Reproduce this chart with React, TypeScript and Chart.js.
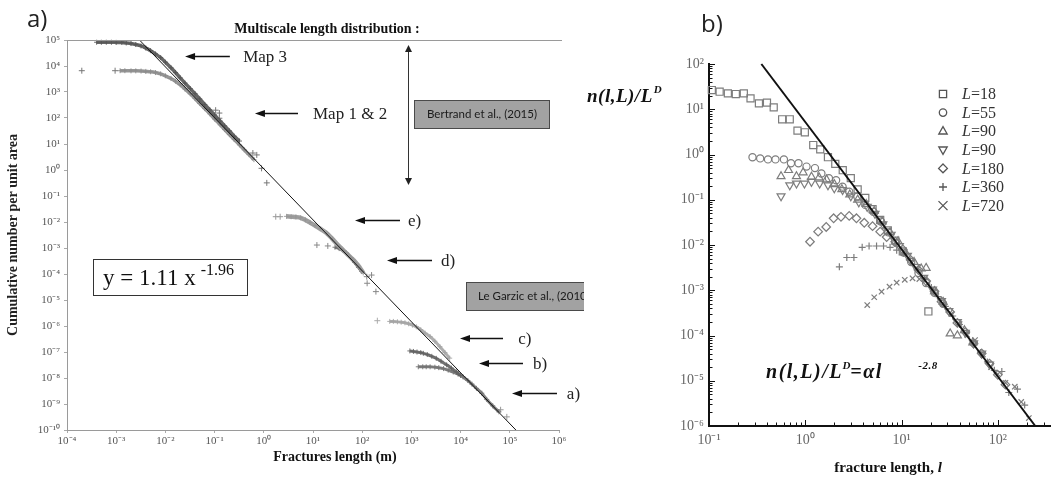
import React, { useEffect, useRef } from 'react';
import { Chart, registerables } from 'chart.js';

Chart.register(...registerables);

// ================= Panel a) : data =================
const titleA = 'Multiscale length distribution :';
const xTitleA = 'Fractures length (m)';
const yTitleA = 'Cumulative number per unit area';
const xTicksA = [1e-4, 1e-3, 1e-2, 1e-1, 1e0, 1e1, 1e2, 1e3, 1e4, 1e5, 1e6];
const yTicksA = [1e-10, 1e-9, 1e-8, 1e-7, 1e-6, 1e-5, 1e-4, 1e-3, 1e-2, 1e-1, 1e0, 1e1, 1e2, 1e3, 1e4, 1e5];

const fitAX = [0.00297, 133000];
const fitAY = [1e5, 1e-10];

const map3X = [4e-4, 5e-4, 6.3e-4, 8e-4, 1e-3, 1.3e-3, 1.6e-3, 2e-3, 2.5e-3, 3.2e-3, 4e-3, 5e-3, 6.3e-3, 8e-3, 1e-2, 1.3e-2, 1.6e-2, 2e-2, 2.5e-2, 3.2e-2, 4e-2, 5e-2, 6.3e-2, 8e-2, 0.1, 0.13, 0.16, 0.2, 0.25, 0.32];
const map3Y = [8.2e4, 8.2e4, 8.2e4, 8.2e4, 8.1e4, 8.0e4, 7.7e4, 7.3e4, 6.7e4, 5.9e4, 4.9e4, 3.9e4, 2.9e4, 2.1e4, 1.4e4, 8.5e3, 5.6e3, 3.5e3, 2.2e3, 1.35e3, 860, 540, 330, 205, 130, 76, 50, 32, 20, 13];

const map12X = [1.2e-3, 1.5e-3, 2e-3, 2.5e-3, 3.2e-3, 4e-3, 5e-3, 6.3e-3, 8e-3, 1e-2, 1.3e-2, 1.6e-2, 2e-2, 2.5e-2, 3.2e-2, 4e-2, 5e-2, 6.3e-2, 8e-2, 0.1, 0.13, 0.16, 0.2, 0.25, 0.32, 0.4, 0.5, 0.63];
const map12Y = [6.6e3, 6.6e3, 6.5e3, 6.5e3, 6.4e3, 6.2e3, 6.0e3, 5.6e3, 5.0e3, 4.2e3, 3.3e3, 2.6e3, 1.9e3, 1.3e3, 850, 560, 360, 230, 145, 92, 55, 36, 23, 15, 9.3, 6.0, 3.9, 2.5];
const map12SparseX = [2e-4, 9.5e-4, 0.105, 0.125, 0.125, 0.6, 0.72, 0.9, 1.15];
const map12SparseY = [6.6e3, 6.6e3, 200, 155, 98, 4.5, 3.8, 1.16, 0.32];

const eSparseX = [1.75, 2.15];
const eSparseY = [0.016, 0.016];
const eX = [2.9, 3.6, 4.5, 5.6, 7, 8.7, 11, 14, 19, 25, 35, 48, 66, 85, 105];
const eY = [0.0165, 0.016, 0.0155, 0.0145, 0.012, 0.0095, 0.0073, 0.0055, 0.0037, 0.0022, 0.0011, 6.2e-4, 3.5e-4, 2.0e-4, 1.1e-4];

const dSparseX = [12, 20, 124, 126, 155, 190];
const dSparseY = [1.3e-3, 1.2e-3, 7.9e-5, 4.4e-5, 9.1e-5, 2.1e-5];
const dX = [28, 34, 41, 48, 58, 70, 84, 98];
const dY = [1.07e-3, 9.5e-4, 8.0e-4, 6.3e-4, 4.3e-4, 2.8e-4, 1.8e-4, 1.25e-4];

const cSparseX = [203];
const cSparseY = [1.6e-6];
const cX = [363, 430, 520, 620, 740, 880, 1050, 1260, 1550, 1900, 2400, 3000, 3800, 4800, 6000];
const cY = [1.5e-6, 1.5e-6, 1.45e-6, 1.4e-6, 1.33e-6, 1.22e-6, 1.08e-6, 9.3e-7, 7.2e-7, 5.3e-7, 3.9e-7, 2.6e-7, 1.6e-7, 9.5e-8, 5.8e-8];

const bX = [930, 1100, 1300, 1550, 1750, 2100, 2600, 3200, 4000, 5200, 6500, 8300, 10000];
const bY = [1.1e-7, 1.05e-7, 1.0e-7, 9.5e-8, 8.9e-8, 8.0e-8, 6.8e-8, 5.7e-8, 4.4e-8, 3.2e-8, 2.4e-8, 1.7e-8, 1.25e-8];

const aX = [1380, 1700, 2000, 2400, 3000, 3600, 4500, 5600, 7100, 8900, 11200, 14000, 17000, 21000, 27000, 34000, 45000, 60000];
const aY = [2.7e-8, 2.7e-8, 2.7e-8, 2.7e-8, 2.6e-8, 2.5e-8, 2.3e-8, 2.0e-8, 1.7e-8, 1.4e-8, 1.1e-8, 8.0e-9, 5.8e-9, 4.0e-9, 2.6e-9, 1.5e-9, 8.5e-10, 5.0e-10];
const aSparseX = [65000, 87000];
const aSparseY = [6e-10, 3.2e-10];

// annotations of panel a), in log10 data coordinates
const arrowsA = [
  { label: 'Map 3', tail: -0.69, head: -1.6, y: 4.385, text: -0.42 },
  { label: 'Map 1 & 2', tail: 0.695, head: -0.18, y: 2.19, text: 1.0 },
  { label: 'e)', tail: 2.768, head: 1.854, y: -1.923, text: 2.93 },
  { label: 'd)', tail: 3.419, head: 2.504, y: -3.462, text: 3.6 },
  { label: 'c)', tail: 4.862, head: 3.988, y: -6.462, text: 5.17 },
  { label: 'b)', tail: 5.268, head: 4.374, y: -7.423, text: 5.47 },
  { label: 'a)', tail: 5.959, head: 5.045, y: -8.577, text: 6.16 },
];
const boxesA = [
  { label: 'Bertrand et al., (2015)', x0: 3.053, x1: 5.797, y0: 2.692, y1: 1.615, center: true, textX: 0 },
  { label: 'Le Garzic et al., (2010)', x0: 4.11, x1: 6.9, y0: -4.308, y1: -5.385, center: false, textX: 4.354 },
];
const doubleArrowA = { x: 2.931, y0: 4.81, y1: -0.577 };
const eqBoxA = { x0: -3.472, x1: -0.341, y0: -3.423, y1: -4.808, textX: -3.268, base: -4.423 };

// ================= Panel b) : data =================
const xTitleB = 'fracture length, ';
const xTicksB = [0.1, 1, 10, 100];
const yTicksB = [1e-6, 1e-5, 1e-4, 1e-3, 1e-2, 1e-1, 1e0, 1e1, 1e2];
const labelsB = ['L=18', 'L=55', 'L=90', 'L=90', 'L=180', 'L=360', 'L=720'];

const fitBX = [0.35, 245];
const fitBY = [100, 1e-6];

const sqX = [0.107, 0.129, 0.157, 0.19, 0.23, 0.27, 0.33, 0.4, 0.47, 0.575, 0.69, 0.83, 0.99, 1.21, 1.43, 1.72, 2.05, 2.45, 2.97, 3.5, 4.2, 5.0, 6.0, 7.2, 8.6, 10.3, 19];
const sqY = [26.6, 24.4, 22.4, 21.7, 22.4, 17.4, 13.5, 14, 11, 6.0, 6.0, 3.36, 3.1, 1.62, 1.3, 0.87, 0.62, 0.45, 0.3, 0.17, 0.11, 0.062, 0.036, 0.021, 0.0125, 0.0072, 3.4e-4];

const ciX = [0.283, 0.34, 0.41, 0.49, 0.6, 0.71, 0.85, 1.03, 1.26, 1.47, 1.76, 2.09, 2.44, 2.86, 3.47, 4.2, 5.1, 6.1, 7.3, 8.8, 10.5, 12.6, 15, 18, 22, 27];
const ciY = [0.87, 0.82, 0.78, 0.78, 0.78, 0.64, 0.64, 0.54, 0.5, 0.38, 0.3, 0.27, 0.195, 0.15, 0.117, 0.077, 0.054, 0.033, 0.019, 0.011, 0.0068, 0.0042, 0.0024, 0.00145, 0.00088, 0.0005];

const triUpX = [0.56, 0.67, 0.81, 0.95, 1.16, 1.39, 1.66, 2.0, 2.4, 2.9, 3.5, 4.3, 5.2, 6.3, 7.6, 9.2, 11, 13.5, 16, 18, 22, 27, 32, 38, 45, 55];
const triUpY = [0.33, 0.45, 0.33, 0.4, 0.32, 0.31, 0.28, 0.22, 0.17, 0.13, 0.1, 0.08, 0.056, 0.033, 0.019, 0.012, 0.0068, 0.0042, 0.003, 0.0031, 0.00095, 0.00055, 0.00011, 0.0001, 0.00013, 0.00007];

const triDnX = [0.56, 0.69, 0.81, 0.98, 1.16, 1.41, 1.72, 2.0, 2.44, 2.97, 3.6, 4.4, 5.3, 6.4, 7.8, 9.5, 11.5, 14, 17, 21, 26, 31, 38, 46, 56, 68, 82];
const triDnY = [0.12, 0.21, 0.23, 0.23, 0.25, 0.23, 0.21, 0.18, 0.165, 0.12, 0.088, 0.07, 0.049, 0.029, 0.017, 0.0095, 0.0058, 0.0033, 0.0019, 0.00105, 0.00058, 0.00035, 0.0002, 0.000115, 0.000068, 0.00004, 0.000023];

const diaX = [1.12, 1.36, 1.65, 1.97, 2.35, 2.86, 3.4, 4.1, 5.0, 6.0, 7.0, 8.6, 10.3, 12.4, 15, 18, 22, 26, 32, 38, 46, 56, 68, 82, 100, 120];
const diaY = [0.0118, 0.0197, 0.025, 0.039, 0.042, 0.044, 0.039, 0.031, 0.026, 0.0197, 0.015, 0.0118, 0.008, 0.0047, 0.0028, 0.0016, 0.00095, 0.00056, 0.00033, 0.00019, 0.00012, 0.000066, 0.00004, 0.000024, 0.0000135, 0.0000082];

const plusX = [2.26, 2.7, 3.2, 3.9, 4.6, 5.5, 6.5, 7.6, 8.9, 10.5, 12.4, 14.6, 17.3, 20.4, 24, 28.5, 34, 40, 47, 56, 66, 78, 92, 110, 130, 160, 190];
const plusY = [0.0033, 0.0053, 0.0053, 0.0089, 0.0095, 0.0095, 0.0095, 0.0089, 0.0077, 0.0066, 0.0045, 0.0029, 0.0018, 0.00115, 0.00072, 0.00044, 0.00027, 0.000175, 0.00011, 0.000068, 0.000042, 0.000026, 0.000017, 0.000016, 0.0000055, 0.0000065, 0.0000029];

const crossX = [4.4, 5.2, 6.2, 7.5, 8.9, 10.8, 13, 15.3, 18.7, 22, 27, 33, 40, 48, 58, 70, 85, 100, 120, 150, 175, 210];
const crossY = [0.00047, 0.0007, 0.00093, 0.0012, 0.00147, 0.0017, 0.00184, 0.00177, 0.0014, 0.00095, 0.0005, 0.0003, 0.00018, 0.000104, 0.000079, 0.000038, 0.00002, 0.000014, 0.000009, 0.0000074, 0.0000034, 0.0000015];

// equation of panel b): pieces anchored in data coordinates (x), baseline at y
const eqB = [
  { t: 'n(l,L)/L', x: 0.391, sup: false },
  { t: 'D', x: 2.44, sup: true },
  { t: '=αl', x: 2.94, sup: false },
  { t: '-2.8', x: 14.9, sup: true },
];
const eqBBase = 1.15e-5;

// ================= helpers =================
const SERIF = '"Liberation Serif", "Times New Roman", serif';
const SUP: Record<string, string> = { '-': '⁻', '0': '⁰', '1': '¹', '2': '²', '3': '³', '4': '⁴', '5': '⁵', '6': '⁶', '7': '⁷', '8': '⁸', '9': '⁹' };
const powLabel = (v: number) => {
  const e = Math.round(Math.log10(v));
  return '10' + String(e).split('').map((c) => SUP[c] || c).join('');
};
const pts = (xs: number[], ys: number[]) => xs.map((x, i) => ({ x, y: ys[i] }));

function drawParts(ctx: CanvasRenderingContext2D, x: number, y: number, parts: any[]) {
  let cx = x;
  for (const p of parts) {
    ctx.font = p.font;
    cx += p.dx || 0;
    ctx.fillText(p.t, cx, y + (p.dy || 0));
    cx += ctx.measureText(p.t).width;
  }
  return cx;
}

function arrowLeft(ctx: CanvasRenderingContext2D, xTail: number, xHead: number, y: number) {
  ctx.strokeStyle = '#111';
  ctx.fillStyle = '#111';
  ctx.lineWidth = 1.6;
  ctx.beginPath();
  ctx.moveTo(xTail, y);
  ctx.lineTo(xHead + 8, y);
  ctx.stroke();
  ctx.beginPath();
  ctx.moveTo(xHead, y);
  ctx.lineTo(xHead + 10, y - 3.6);
  ctx.lineTo(xHead + 10, y + 3.6);
  ctx.closePath();
  ctx.fill();
}

function drawMarker(ctx: CanvasRenderingContext2D, style: string, rot: number, x: number, y: number) {
  ctx.beginPath();
  if (style === 'rect') {
    ctx.rect(x - 3.6, y - 3.6, 7.2, 7.2);
  } else if (style === 'circle') {
    ctx.arc(x, y, 3.7, 0, Math.PI * 2);
  } else if (style === 'triangle') {
    const s = rot ? -1 : 1;
    ctx.moveTo(x, y - 4.6 * s);
    ctx.lineTo(x + 4.2, y + 2.8 * s);
    ctx.lineTo(x - 4.2, y + 2.8 * s);
    ctx.closePath();
  } else if (style === 'rectRot') {
    ctx.moveTo(x, y - 4.4);
    ctx.lineTo(x + 4.4, y);
    ctx.lineTo(x, y + 4.4);
    ctx.lineTo(x - 4.4, y);
    ctx.closePath();
  } else if (style === 'cross') {
    ctx.moveTo(x - 4, y);
    ctx.lineTo(x + 4, y);
    ctx.moveTo(x, y - 4);
    ctx.lineTo(x, y + 4);
  } else if (style === 'crossRot') {
    ctx.moveTo(x - 4.5, y - 4.5);
    ctx.lineTo(x + 4.5, y + 4.5);
    ctx.moveTo(x + 4.5, y - 4.5);
    ctx.lineTo(x - 4.5, y + 4.5);
  }
  ctx.stroke();
}

// ================= panel a) plugin =================
const decorA = {
  id: 'decorA',
  afterDraw(chart: any) {
    const { ctx, chartArea: ca, scales } = chart;
    const X = (lg: number) => scales.x.getPixelForValue(Math.pow(10, lg));
    const Y = (lg: number) => scales.y.getPixelForValue(Math.pow(10, lg));
    ctx.save();
    ctx.strokeStyle = '#9a9a9a';
    ctx.lineWidth = 1;
    ctx.beginPath();
    ctx.moveTo(ca.left, Math.round(ca.top) + 0.5);
    ctx.lineTo(ca.right + 3, Math.round(ca.top) + 0.5);
    ctx.stroke();

    ctx.fillStyle = '#111';
    ctx.textBaseline = 'middle';
    ctx.textAlign = 'center';
    ctx.font = `bold 14px ${SERIF}`;
    ctx.fillText(titleA, 327, 29);
    ctx.fillText(xTitleA, 335, 457);

    ctx.textAlign = 'left';
    ctx.font = '24px "Open Sans", "Noto Sans", sans-serif';
    ctx.fillStyle = '#222';
    ctx.fillText('a)', 27, 20);

    for (const a of arrowsA) {
      const y = Math.round(Y(a.y)) + 0.5;
      arrowLeft(ctx, X(a.tail), X(a.head), y);
      ctx.fillStyle = '#222';
      ctx.font = `17px ${SERIF}`;
      ctx.textAlign = 'left';
      ctx.textBaseline = 'middle';
      ctx.fillText(a.label, X(a.text), y + 1);
    }

    const vx = Math.round(X(doubleArrowA.x)) + 0.5;
    const vt = Y(doubleArrowA.y0);
    const vb = Y(doubleArrowA.y1);
    ctx.strokeStyle = '#333';
    ctx.fillStyle = '#222';
    ctx.lineWidth = 1;
    ctx.beginPath();
    ctx.moveTo(vx, vt + 5);
    ctx.lineTo(vx, vb - 5);
    ctx.stroke();
    ctx.beginPath();
    ctx.moveTo(vx, vt);
    ctx.lineTo(vx - 3.5, vt + 7);
    ctx.lineTo(vx + 3.5, vt + 7);
    ctx.closePath();
    ctx.fill();
    ctx.beginPath();
    ctx.moveTo(vx, vb);
    ctx.lineTo(vx - 3.5, vb - 7);
    ctx.lineTo(vx + 3.5, vb - 7);
    ctx.closePath();
    ctx.fill();

    for (const b of boxesA) {
      ctx.save();
      ctx.beginPath();
      ctx.rect(0, 0, 584, chart.height);
      ctx.clip();
      const x0 = Math.round(X(b.x0)) + 0.5;
      const x1 = Math.round(X(b.x1)) + 0.5;
      const y0 = Math.round(Y(b.y0)) + 0.5;
      const y1 = Math.round(Y(b.y1)) + 0.5;
      ctx.fillStyle = '#a2a2a2';
      ctx.fillRect(x0, y0, x1 - x0, y1 - y0);
      ctx.strokeStyle = '#4a4a4a';
      ctx.lineWidth = 1;
      ctx.strokeRect(x0, y0, x1 - x0, y1 - y0);
      ctx.fillStyle = '#1a1a1a';
      ctx.font = '11.5px Lato, "Open Sans", sans-serif';
      ctx.textBaseline = 'middle';
      if (b.center) {
        ctx.textAlign = 'center';
        ctx.fillText(b.label, (x0 + x1) / 2, (y0 + y1) / 2);
      } else {
        ctx.textAlign = 'left';
        ctx.fillText(b.label, X(b.textX), (y0 + y1) / 2);
      }
      ctx.restore();
    }

    const ex0 = Math.round(X(eqBoxA.x0)) + 0.5;
    const ex1 = Math.round(X(eqBoxA.x1)) + 0.5;
    const ey0 = Math.round(Y(eqBoxA.y0)) + 0.5;
    const ey1 = Math.round(Y(eqBoxA.y1)) + 0.5;
    ctx.fillStyle = '#fff';
    ctx.fillRect(ex0, ey0, ex1 - ex0, ey1 - ey0);
    ctx.strokeStyle = '#333';
    ctx.lineWidth = 1;
    ctx.strokeRect(ex0, ey0, ex1 - ex0, ey1 - ey0);
    ctx.fillStyle = '#111';
    ctx.textAlign = 'left';
    ctx.textBaseline = 'alphabetic';
    drawParts(ctx, X(eqBoxA.textX), Y(eqBoxA.base), [
      { t: 'y = 1.11 x', font: `23px ${SERIF}` },
      { t: '-1.96', font: `16px ${SERIF}`, dx: 5, dy: -10 },
    ]);
    ctx.restore();
  },
};

// ================= panel b) plugin =================
const decorB = {
  id: 'decorB',
  afterDraw(chart: any) {
    const { ctx, chartArea: ca, scales } = chart;
    const xs = scales.x;
    const ys = scales.y;
    ctx.save();
    ctx.strokeStyle = '#111';
    ctx.lineWidth = 1;
    for (let n = -6; n <= 2; n++) {
      for (let k = 1; k <= 9; k++) {
        const v = k * Math.pow(10, n);
        if (v < ys.min * 0.999 || v > ys.max * 1.001) continue;
        const y = Math.round(ys.getPixelForValue(v)) + 0.5;
        const len = k === 1 ? 6 : 3.5;
        ctx.beginPath();
        ctx.moveTo(ca.left, y);
        ctx.lineTo(ca.left + len, y);
        ctx.stroke();
      }
    }
    for (let n = -1; n <= 2; n++) {
      for (let k = 1; k <= 9; k++) {
        const v = k * Math.pow(10, n);
        if (v < xs.min * 0.999 || v > xs.max) continue;
        const x = Math.round(xs.getPixelForValue(v)) + 0.5;
        const len = k === 1 ? 6 : 3.5;
        ctx.beginPath();
        ctx.moveTo(x, ca.bottom);
        ctx.lineTo(x, ca.bottom - len);
        ctx.stroke();
      }
    }

    // legend
    const sets = chart.data.datasets.filter((d: any) => d.legend);
    sets.forEach((d: any, i: number) => {
      const y = ca.top + 30 + i * 18.6;
      ctx.strokeStyle = '#555';
      ctx.lineWidth = 1.3;
      drawMarker(ctx, d.pointStyle, d.pointRotation || 0, ca.left + 234, y);
      ctx.fillStyle = '#333';
      ctx.textAlign = 'left';
      ctx.textBaseline = 'middle';
      const lbl: string = d.label;
      drawParts(ctx, ca.left + 253, y + 1, [
        { t: lbl.slice(0, 1), font: `italic 16px ${SERIF}` },
        { t: lbl.slice(1), font: `16px ${SERIF}` },
      ]);
    });

    // y label
    ctx.fillStyle = '#111';
    ctx.textAlign = 'left';
    ctx.textBaseline = 'alphabetic';
    (ctx as any).letterSpacing = '0.5px';
    drawParts(ctx, 2, 102, [
      { t: 'n(l,L)/L', font: `italic bold 19px ${SERIF}` },
      { t: 'D', font: `italic bold 11px ${SERIF}`, dx: 1, dy: -9 },
    ]);

    // equation
    const base = ys.getPixelForValue(eqBBase);
    for (const p of eqB) {
      ctx.font = p.sup ? `italic bold 11px ${SERIF}` : `italic bold 20px ${SERIF}`;
      (ctx as any).letterSpacing = p.sup ? '0.5px' : '1.5px';
      ctx.fillText(p.t, xs.getPixelForValue(p.x), base + (p.sup ? -9 : 0));
    }
    (ctx as any).letterSpacing = '0px';

    // x title
    ctx.textBaseline = 'middle';
    ctx.font = `bold 15px ${SERIF}`;
    const w1 = ctx.measureText(xTitleB).width;
    ctx.font = `italic bold 15px ${SERIF}`;
    const w2 = ctx.measureText('l').width;
    drawParts(ctx, 303 - (w1 + w2) / 2, 468, [
      { t: xTitleB, font: `bold 15px ${SERIF}` },
      { t: 'l', font: `italic bold 15px ${SERIF}` },
    ]);

    ctx.fillStyle = '#222';
    ctx.font = '24px "Open Sans", "Noto Sans", sans-serif';
    ctx.textBaseline = 'middle';
    ctx.fillText('b)', 116, 25);
    ctx.restore();
  },
};

// ================= component =================
export default function App() {
  const leftRef = useRef<HTMLCanvasElement>(null);
  const rightRef = useRef<HTMLCanvasElement>(null);

  useEffect(() => {
    const band = (label: string, xs: number[], ys: number[], color: string, width: number) => ({
      label, data: pts(xs, ys), showLine: true, borderColor: color, borderWidth: width,
      pointStyle: 'cross', pointRadius: 2.5, pointBorderColor: color, pointBorderWidth: 1,
      pointBackgroundColor: color, clip: false, tension: 0.3,
    });
    const sparse = (label: string, xs: number[], ys: number[], color: string) => ({
      label, data: pts(xs, ys), showLine: false, pointStyle: 'cross', pointRadius: 3,
      pointBorderColor: color, pointBorderWidth: 1, pointBackgroundColor: color, clip: false,
    });

    const logAxis = (min: number, max: number, ticks: number[]) => ({
      type: 'logarithmic', min, max,
      afterBuildTicks: (s: any) => { s.ticks = ticks.map((v) => ({ value: v })); },
    });

    const left = new Chart(leftRef.current as HTMLCanvasElement, {
      type: 'scatter',
      data: {
        datasets: [
          { label: 'Fit y = 1.11 x^-1.96', data: pts(fitAX, fitAY), showLine: true, borderColor: '#111', borderWidth: 1, pointRadius: 0, clip: false },
          band('Map 3', map3X, map3Y, 'rgba(85,85,85,0.9)', 3.5),
          band('Map 1 & 2', map12X, map12Y, 'rgba(140,140,140,0.9)', 3.5),
          sparse('Map 1 & 2 (sparse)', map12SparseX, map12SparseY, '#777'),
          band('e)', eX, eY, 'rgba(150,150,150,0.9)', 4.5),
          sparse('e) sparse', eSparseX, eSparseY, '#999'),
          band('d)', dX, dY, 'rgba(110,110,110,0.9)', 3),
          sparse('d) sparse', dSparseX, dSparseY, '#888'),
          band('c)', cX, cY, 'rgba(165,165,165,0.9)', 3),
          sparse('c) sparse', cSparseX, cSparseY, '#aaa'),
          band('b)', bX, bY, 'rgba(100,100,100,0.9)', 3),
          band('a)', aX, aY, 'rgba(115,115,115,0.9)', 3),
          sparse('a) sparse', aSparseX, aSparseY, '#999'),
        ],
      } as any,
      options: {
        responsive: false,
        animation: false,
        layout: { padding: { left: 0, right: 41, top: 40, bottom: 0 } },
        plugins: { legend: { display: false }, tooltip: { enabled: false } },
        scales: {
          x: {
            ...logAxis(1e-4, 1e6, xTicksA),
            afterFit: (s: any) => { s.height = 59; s.paddingLeft = 0; s.paddingRight = 0; },
            ticks: { callback: (v: any) => powLabel(Number(v)), font: { family: SERIF, size: 11 }, color: '#555', padding: 2, autoSkip: false, maxRotation: 0 },
            grid: { drawOnChartArea: false, drawTicks: true, tickLength: 3, color: '#aaa' },
            border: { display: true, color: '#9a9a9a', width: 1 },
          },
          y: {
            ...logAxis(1e-10, 1e5, yTicksA),
            afterFit: (s: any) => { s.width = 67; s.paddingTop = 0; s.paddingBottom = 0; },
            ticks: { callback: (v: any) => powLabel(Number(v)), font: { family: SERIF, size: 11 }, color: '#555', padding: 4, autoSkip: false },
            grid: { drawOnChartArea: false, drawTicks: true, tickLength: 3, color: '#aaa' },
            border: { display: true, color: '#9a9a9a', width: 1 },
            title: { display: true, text: yTitleA, color: '#222', font: { family: SERIF, size: 14, weight: 'bold' }, padding: { top: 5, bottom: 0 } },
          },
        },
      } as any,
      plugins: [decorA],
    });

    const mk = (label: string, xs: number[], ys: number[], style: string, radius: number, rot = 0) => ({
      label, legend: true, data: pts(xs, ys), showLine: false, pointStyle: style, pointRadius: radius,
      pointRotation: rot, pointBorderColor: '#7d7d7d', pointBorderWidth: 1.2,
      pointBackgroundColor: 'rgba(0,0,0,0)', clip: false,
    });

    const right = new Chart(rightRef.current as HTMLCanvasElement, {
      type: 'scatter',
      data: {
        datasets: [
          { label: 'fit', data: pts(fitBX, fitBY), showLine: true, borderColor: '#111', borderWidth: 2, pointRadius: 0, clip: false },
          mk(labelsB[0], sqX, sqY, 'rect', 5),
          mk(labelsB[1], ciX, ciY, 'circle', 3.6),
          mk(labelsB[2], triUpX, triUpY, 'triangle', 4.6),
          mk(labelsB[3], triDnX, triDnY, 'triangle', 4.6, 180),
          mk(labelsB[4], diaX, diaY, 'rectRot', 4.3),
          mk(labelsB[5], plusX, plusY, 'cross', 3.5),
          mk(labelsB[6], crossX, crossY, 'crossRot', 3.8),
        ],
      } as any,
      options: {
        responsive: false,
        animation: false,
        layout: { padding: { left: 0, right: 0, top: 64, bottom: 0 } },
        plugins: { legend: { display: false }, tooltip: { enabled: false } },
        scales: {
          x: {
            ...logAxis(0.1, 355, xTicksB),
            afterFit: (s: any) => { s.height = 63; s.paddingLeft = 0; s.paddingRight = 0; },
            ticks: { callback: (v: any) => powLabel(Number(v)), font: { family: SERIF, size: 14 }, color: '#666', padding: 6, autoSkip: false, maxRotation: 0 },
            grid: { display: false, drawTicks: false },
            border: { display: true, color: '#111', width: 2 },
          },
          y: {
            ...logAxis(1e-6, 100, yTicksB),
            afterFit: (s: any) => { s.width = 124; s.paddingTop = 0; s.paddingBottom = 0; },
            ticks: { callback: (v: any) => powLabel(Number(v)), font: { family: SERIF, size: 14 }, color: '#666', padding: 5, autoSkip: false },
            grid: { display: false, drawTicks: false },
            border: { display: true, color: '#111', width: 2 },
          },
        },
      } as any,
      plugins: [decorB],
    });

    return () => {
      left.destroy();
      right.destroy();
    };
  }, []);

  return (
    <div style={{ position: 'fixed', left: 0, top: 0, width: 1057, height: 489, background: '#fff', overflow: 'hidden' }}>
      <canvas ref={leftRef} width={600} height={489} style={{ position: 'absolute', left: 0, top: 0, width: 600, height: 489 }} />
      <canvas ref={rightRef} width={472} height={489} style={{ position: 'absolute', left: 585, top: 0, width: 472, height: 489 }} />
    </div>
  );
}
